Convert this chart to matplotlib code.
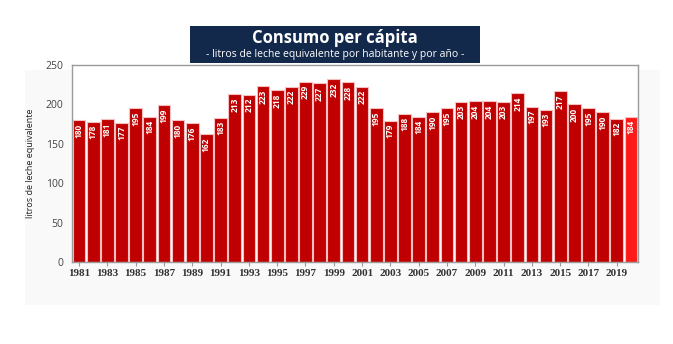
import matplotlib
matplotlib.use("Agg")
import matplotlib.pyplot as plt
from matplotlib.patches import Rectangle

years = list(range(1981, 2021))
values = [180, 178, 181, 177, 195, 184, 199, 180, 176, 162,
          183, 213, 212, 223, 218, 222, 229, 227, 232, 228,
          222, 195, 179, 188, 184, 190, 195, 203, 204, 204,
          203, 214, 197, 193, 217, 200, 195, 190, 182, 184]
title = "Consumo per cápita"
subtitle = "- litros de leche equivalente por habitante y por año -"
ylabel = "litros de leche equivalente"
yticks = [0, 50, 100, 150, 200, 250]

plt.rcParams['font.family'] = ['Open Sans', 'DejaVu Sans']

fig = plt.figure(figsize=(6.73, 3.44), dpi=100)
fig.patch.set_facecolor('white')

# faint background panel
bg = Rectangle((25/673, 1-305/344), (660-25)/673, (305-70)/344,
               transform=fig.transFigure, facecolor='#f9f9f9',
               edgecolor='none', zorder=-5)
fig.patches.append(bg)

ax = fig.add_axes([72/673, 1-262/344, (638-72)/673, (262-65)/344])
ax.set_zorder(2)
ax.set_facecolor('white')

colors = ['#c00000'] * (len(years) - 1) + ['#ff1a1a']
ax.bar(years, values, width=0.9, color=colors, edgecolor='#f6c0c0', linewidth=0.8, zorder=2)
for x, v in zip(years, values):
    ax.text(x, v - 4, str(v), rotation=90, ha='center', va='top', color='white',
            fontsize=6, fontweight='bold', zorder=3)

ax.set_xlim(years[0] - 0.5, years[-1] + 0.5)
ax.set_ylim(0, 250)
ax.set_yticks(yticks)
ax.set_xticks(years[::2])
ax.set_xticklabels([str(y) for y in years[::2]], fontsize=8, fontweight='bold',
                   color='#333333', family=['Liberation Serif', 'DejaVu Serif'])
ax.tick_params(axis='y', labelsize=7.5, colors='#444444', length=0, pad=6)
ax.tick_params(axis='x', length=3, color='#999999', pad=2)
for s in ax.spines.values():
    s.set_color('#9a9a9a')
    s.set_linewidth(1.0)
ax.set_ylabel(ylabel, fontsize=6.5, color='#222222', labelpad=8)

# title box
tb = Rectangle((190/673, 1-63/344), (480-190)/673, (63-26)/344,
               transform=fig.transFigure, facecolor='#13294b',
               edgecolor='none', zorder=5)
fig.patches.append(tb)
fig.text(335/673, 1-38/344, title, ha='center', va='center', color='white',
         fontsize=12, fontweight='bold', zorder=6)
fig.text(335/673, 1-55/344, subtitle, ha='center', va='center', color='white',
         fontsize=7.5, zorder=6)

fig.savefig('out.png', dpi=100)
